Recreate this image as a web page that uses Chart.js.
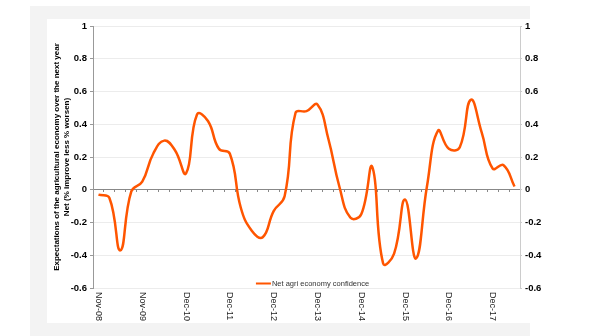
<!DOCTYPE html>
<html>
<head>
<meta charset="utf-8">
<script src="https://cdn.jsdelivr.net/npm/chart.js@4/dist/chart.umd.min.js"></script>
<style>
  html, body { margin: 0; padding: 0; background: #ffffff; }
  #wrap { width: 600px; height: 336px; }
</style>
</head>
<body>
<div id="wrap"><canvas id="c" width="600" height="336"></canvas></div>
<script>
const categories = [
  "Nov-08","Feb-09","May-09","Aug-09","Nov-09",
  "Mar-10","Jun-10","Sep-10","Dec-10",
  "Mar-11","Jun-11","Sep-11","Dec-11",
  "Mar-12","Jun-12","Sep-12","Dec-12",
  "Mar-13","Jun-13","Sep-13","Dec-13",
  "Mar-14","Jun-14","Sep-14","Dec-14",
  "Mar-15","Jun-15","Sep-15","Dec-15",
  "Mar-16","Jun-16","Sep-16","Dec-16",
  "Mar-17","Jun-17","Sep-17","Dec-17",
  "Mar-18","Jun-18"
];
const netAgriConfidence = [
  -0.03, -0.05, -0.37, -0.01, 0.05,
  0.22, 0.30, 0.24, 0.10,
  0.46, 0.42, 0.25, 0.22,
  -0.11, -0.25, -0.29, -0.13,
  -0.04, 0.47, 0.48, 0.52,
  0.31, 0.02, -0.17, -0.15,
  0.14, -0.45, -0.39, -0.06,
  -0.42, 0.02, 0.36, 0.25,
  0.26, 0.55, 0.35, 0.13,
  0.15, 0.02
];
const shownCategoryLabels = ["Nov-08","Nov-09","Dec-10","Dec-11","Dec-12","Dec-13","Dec-14","Dec-15","Dec-16","Dec-17"];
const seriesName = "Net agri economy confidence";
const yAxisTitle = ["Expectations of the agricultural economy over the next year", "Net (% improve less % worsen)"];
const yMin = -0.6, yMax = 1, yStep = 0.2;

const ORANGE = '#ff5500';
const FONT = '"Liberation Sans", Arial, sans-serif';

const fmtTick = (v) => String(Number(v.toFixed(1)));

const bgPlugin = {
  id: 'bg',
  beforeDraw(chart) {
    const ctx = chart.ctx;
    ctx.save();
    ctx.fillStyle = '#f3f3f3';
    ctx.fillRect(30, 6, 500, 330);
    ctx.fillStyle = '#ffffff';
    ctx.fillRect(47, 19, 553, 304);
    ctx.restore();
  }
};

const labelsPlugin = {
  id: 'xlabels',
  afterDraw(chart) {
    const ctx = chart.ctx;
    const xs = chart.scales.x;
    const area = chart.chartArea;
    ctx.save();
    ctx.font = '9px ' + FONT;
    ctx.fillStyle = '#222222';
    ctx.textAlign = 'left';
    ctx.textBaseline = 'middle';
    categories.forEach((c, i) => {
      if (!shownCategoryLabels.includes(c)) return;
      const x = xs.getPixelForValue(i);
      ctx.save();
      ctx.translate(x, area.bottom + 4);
      ctx.rotate(Math.PI / 2);
      ctx.fillText(c, 0, 0);
      ctx.restore();
    });
    // legend
    const ds = chart.data.datasets[0];
    ctx.font = '7.5px ' + FONT;
    const tw = ctx.measureText(ds.label).width;
    const lineW = 15;
    const total = lineW + 1 + tw;
    const cx = (area.left + area.right) / 2 + 6;
    const x0 = cx - total / 2;
    const y = area.bottom - 4.5;
    ctx.strokeStyle = ds.borderColor;
    ctx.lineWidth = 2;
    ctx.beginPath();
    ctx.moveTo(x0, y);
    ctx.lineTo(x0 + lineW, y);
    ctx.stroke();
    ctx.fillStyle = '#333333';
    ctx.textAlign = 'left';
    ctx.textBaseline = 'middle';
    ctx.fillText(ds.label, x0 + lineW + 1, y);
    ctx.restore();
  }
};

new Chart(document.getElementById('c'), {
  type: 'line',
  data: {
    labels: categories,
    datasets: [{
      label: seriesName,
      data: netAgriConfidence,
      borderColor: ORANGE,
      backgroundColor: ORANGE,
      borderWidth: 2.5,
      pointRadius: 0,
      tension: 0.45,
      fill: false,
      yAxisID: 'y'
    }]
  },
  options: {
    responsive: false,
    animation: false,
    devicePixelRatio: 1,
    layout: { padding: { left: 0, right: 0, top: 26, bottom: 48 } },
    plugins: { legend: { display: false }, tooltip: { enabled: false } },
    scales: {
      x: {
        type: 'category',
        position: { y: 0 },
        offset: true,
        ticks: { display: false, autoSkip: false },
        grid: { offset: true, drawOnChartArea: false, drawTicks: true, tickLength: 2, tickColor: '#888888' },
        border: { color: '#888888', width: 1 }
      },
      y: {
        position: 'left',
        min: yMin, max: yMax,
        afterFit(s) { s.width = 93; },
        ticks: { stepSize: yStep, color: '#000000', padding: 3, callback: fmtTick, font: { family: FONT, size: 9.5, weight: 'bold' } },
        grid: { color: '#ececec', lineWidth: 1, tickLength: 3, tickColor: '#999999' },
        border: { color: '#999999', width: 1 },
        title: { display: true, text: yAxisTitle, color: '#000000', padding: { top: 52, bottom: 0 }, font: { family: FONT, size: 8, weight: 'bold', lineHeight: 1.25 } }
      },
      y2: {
        position: 'right',
        min: yMin, max: yMax,
        afterFit(s) { s.width = 80; },
        ticks: { stepSize: yStep, color: '#000000', padding: 3, callback: fmtTick, font: { family: FONT, size: 9.5, weight: 'bold' } },
        grid: { drawOnChartArea: false, tickLength: 2, tickColor: '#cccccc' },
        border: { color: '#cccccc', width: 1, dash: [1, 2] }
      }
    }
  },
  plugins: [bgPlugin, labelsPlugin]
});
</script>
</body>
</html>
